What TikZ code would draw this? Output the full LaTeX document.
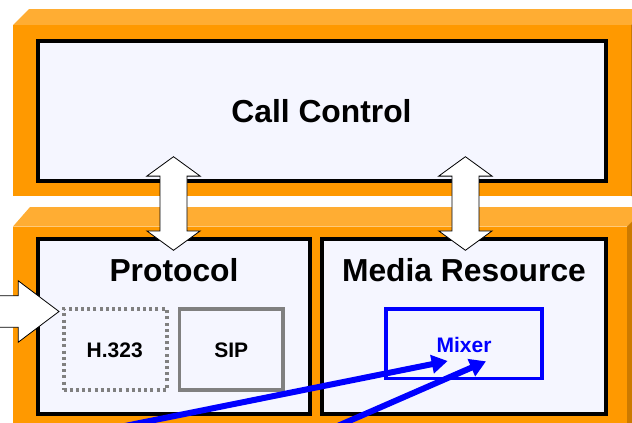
\documentclass[tikz,border=0pt]{standalone}
\usepackage{fontspec}
\setmainfont{Liberation Sans}
\usetikzlibrary{shapes.arrows,arrows.meta}
\definecolor{panelorange}{HTML}{FF9900}
\definecolor{bevelorange}{HTML}{FFAD33}
\definecolor{sideorange}{HTML}{CC7A00}
\definecolor{innerfill}{HTML}{F5F6FF}
\definecolor{midgray}{HTML}{808080}
\tikzset{
  x=1pt,y=-1pt,
  inner box/.style={draw=black,line width=4pt,fill=innerfill,inner sep=0pt,outer sep=0pt,anchor=north west},
  sub box/.style={line width=3.6pt,inner sep=0pt,outer sep=0pt,anchor=north west},
  title/.style={font=\bfseries\fontsize{31.8}{34}\selectfont,anchor=base,inner sep=0pt},
  small/.style={font=\bfseries\fontsize{21}{24}\selectfont,anchor=base,inner sep=0pt},
  updown/.style={double arrow,draw=black,fill=white,line width=0.8pt,rotate=90,inner sep=0pt,outer sep=0pt,
    minimum height=93.6pt,double arrow head extend=13.2pt,double arrow tip angle=108},
  bluearrow/.style={draw=blue,line width=6pt,-{Triangle[length=16pt,width=18pt]}},
}
\begin{document}
\begin{tikzpicture}
\useasboundingbox (0,0) rectangle (632,423);
\clip (0,0) rectangle (632,423);
% panels
\fill[bevelorange] (13,25) -- (29,9) -- (632,9) -- (632,24) -- (631,25) -- cycle;
\fill[panelorange] (13,25) rectangle (631,196);
\fill[sideorange] (631,25) -- (632,24) -- (632,196) -- (631,196) -- cycle;
\fill[bevelorange] (13,226.5) -- (30,207) -- (632,207) -- (632,221.5) -- (627,226.5) -- cycle;
\fill[panelorange] (13,226.5) rectangle (627,423);
\fill[sideorange] (627,226.5) -- (632,221.5) -- (632,423) -- (627,423) -- cycle;
% main boxes
\node[inner box,minimum width=568.3pt,minimum height=139.8pt] (call) at (38,40.7) {};
\node[title] (calltext) at (321.5,122.7) {Call Control};
\node[inner box,minimum width=272pt,minimum height=175pt] (protocol) at (38,238.5) {};
\node[inner box,minimum width=284pt,minimum height=175pt] (media) at (322,238.5) {};
\node[title] (prototext) at (174,281) {Protocol};
\node[title] (mediatext) at (464,281) {Media Resource};
% inner boxes
\node[sub box,line width=4pt,draw=midgray,dash pattern=on 3pt off 3.2pt,minimum width=103pt,minimum height=81pt] (h323) at (63.5,309) {};
\node[small] (h323text) at (114.7,357) {H.323};
\node[sub box,draw=midgray,minimum width=103.5pt,minimum height=81pt] (sip) at (179.5,309) {};
\node[small] (siptext) at (231.3,357) {SIP};
\node[sub box,draw=blue,minimum width=156pt,minimum height=69.5pt] (mixer) at (386,309) {};
\node[small,text=blue] (mixertext) at (464,352) {Mixer};
% block arrows
\node[updown] (arrowa) at (173.5,203.5) {\rule{0pt}{26.2pt}};
\node[updown] (arrowb) at (465.4,203.5) {\rule{0pt}{26.2pt}};
\node[single arrow,draw=black,fill=white,line width=0.8pt,inner sep=0pt,outer sep=0pt,anchor=tip,
  minimum height=80pt,single arrow head extend=15pt,single arrow tip angle=74] (arrowc) at (59,311.5) {\rule{0pt}{30.7pt}};
% blue arrows
\coordinate (blueAstart) at (100,431);
\coordinate (blueAend) at (447.7,361);
\coordinate (blueBstart) at (300,442.4);
\coordinate (blueBend) at (486,361.3);
\draw[bluearrow] (blueAstart) -- (blueAend);
\draw[bluearrow] (blueBstart) -- (blueBend);
\end{tikzpicture}
\end{document}
